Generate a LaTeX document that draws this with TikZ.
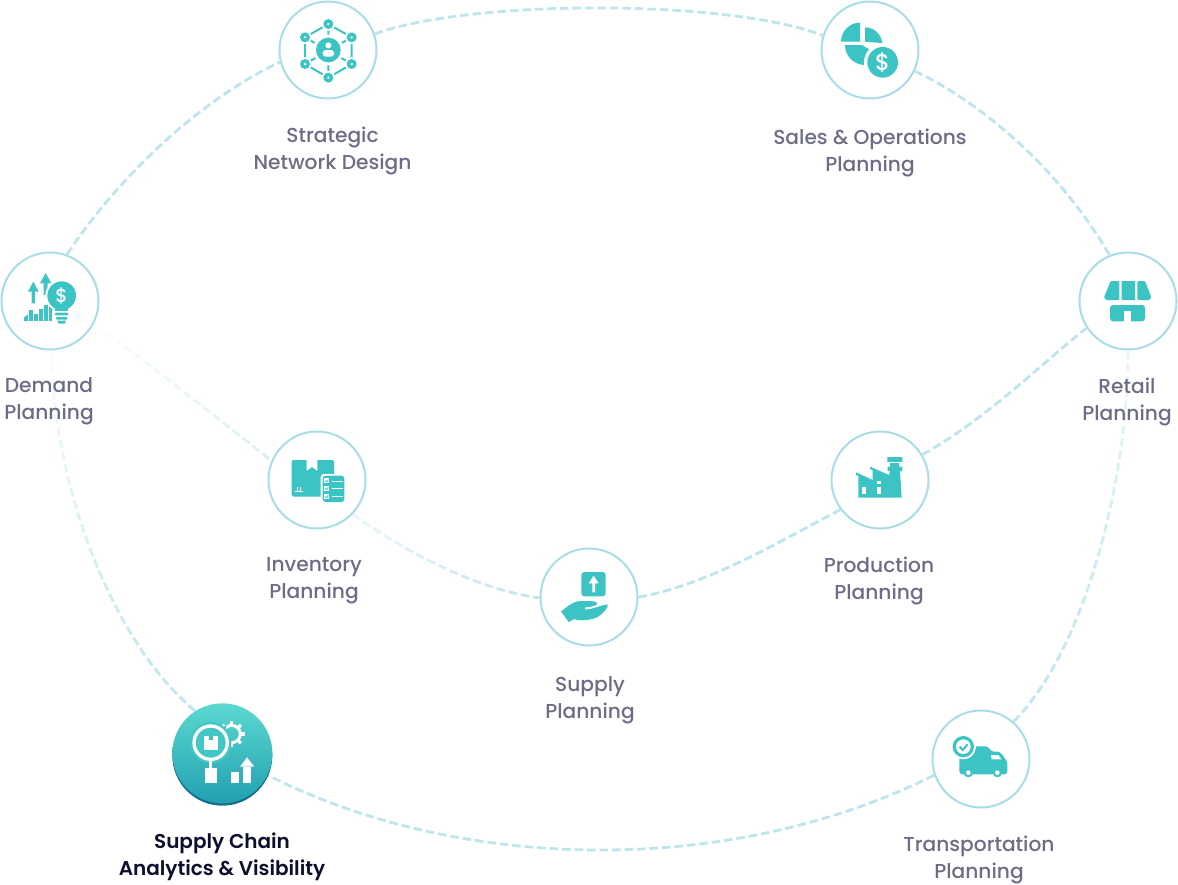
\documentclass[tikz,border=0pt]{standalone}
\usepackage{fontspec}
\usetikzlibrary{fadings}
\setmainfont{Poppins Medium}
\newfontfamily\medfont{Poppins Medium}
\newfontfamily\semifont{Poppins SemiBold}
\definecolor{ringc}{HTML}{A9DDE6}
\definecolor{linkc}{HTML}{BCE5EC}
\definecolor{iconc}{HTML}{3CC4C4}
\definecolor{labelc}{HTML}{6C6C86}
\definecolor{darkc}{HTML}{0E0F2E}
\definecolor{gradtop}{HTML}{5CD8D0}
\definecolor{gradbot}{HTML}{22A0B0}
\definecolor{rimc}{HTML}{10708A}
\tikzfading[name=fadeleft,left color=transparent!70,right color=transparent!0]
\tikzfading[name=fadeverylight,left color=transparent!95,right color=transparent!40]
\tikzfading[name=fadetop,top color=transparent!90,middle color=transparent!62,bottom color=transparent!0]
\tikzfading[name=fadetopb,top color=transparent!65,middle color=transparent!60,bottom color=transparent!0]
\tikzset{
 ringnode/.style={circle,draw=ringc,line width=2pt,fill=white,minimum size=97pt,inner sep=0pt},
 link/.style={draw=linkc,line width=2.8pt,dash pattern=on 8.5pt off 4pt},
 lab/.style={font=\fontsize{20.2}{27}\selectfont,text=labelc,align=center,inner sep=0pt},
 ic/.style={fill=iconc,draw=none},
 wh/.style={fill=white,draw=none},
 zoomed/.style={x=0.33333pt,y=-0.33333pt},
}
\begin{document}
\begin{tikzpicture}[x=1pt,y=-1pt]
\useasboundingbox (0,0) rectangle (1178,884);
% nodes
\node[ringnode] (net) at (328,50) {};
\node[ringnode] (sop) at (870,50) {};
\node[ringnode] (dem) at (50,301) {};
\node[ringnode] (ret) at (1128,301) {};
\node[ringnode] (inv) at (317,480) {};
\node[ringnode] (pro) at (880,480) {};
\node[ringnode] (sup) at (589,597) {};
\node[ringnode] (tra) at (981,759) {};
\node[circle,fill=white,minimum size=100pt,inner sep=0pt] (sca) at (222.3,753) {};
% connectors
\draw[link] (net.19) .. controls (470,-1) and (730,-1) .. (sop.163);
\draw[link] (sop.-25) .. controls (985,105) and (1060,170) .. (ret.112);
\draw[link,path fading=fadetopb] (ret.-90) .. controls (1128,480) and (1085,650) .. (tra.49);
\draw[link] (tra.199) .. controls (735,875) and (465,875) .. (sca.-26);
\draw[link,path fading=fadetop] (sca.123) .. controls (110,640) and (52,480) .. (dem.-88);
\draw[link] (dem.70) .. controls (120,175) and (200,100) .. (net.194);
\draw[link,path fading=fadeverylight] (dem.-27) .. controls (150,365) and (220,420) .. (inv.157);
\draw[link,path fading=fadeleft] (inv.-44) .. controls (410,555) and (480,590) .. (sup.181);
\draw[link] (sup.0) .. controls (710,585) and (790,535) .. (pro.217);
\draw[link] (pro.31) .. controls (985,420) and (1040,365) .. (ret.213);
% labels
\node[lab] (l1) at (332.5,150.5) {Strategic\\Network Design};
\node[lab] (l2) at (870,152.5) {Sales \& Operations\\Planning};
\node[lab] (l3) at (49,401.5) {Demand\\Planning};
\node[lab] (l4) at (1127,401.5) {Retail\\Planning};
\node[lab] (l5) at (314,580.5) {Inventory\\Planning};
\node[lab] (l6) at (879,580.5) {Production\\Planning};
\node[lab] (l7) at (590,700) {Supply\\Planning};
\node[lab] (l8) at (979,859.5) {Transportation\\Planning};
\node[lab,text=darkc,font=\fontsize{20}{27}\semifont] (l9) at (222,856.5) {Supply Chain\\Analytics \& Visibility};
% ---- network icon
\begin{scope}[shift={(260,0)},zoomed]
 \draw[iconc,line width=2pt] (205,72)--(275,112)--(275,192)--(205,233)--(135,192)--(135,112)--cycle;
 \draw[iconc,line width=2pt] (205,72)--(205,233) (135,112)--(275,192) (275,112)--(135,192);
 \foreach \p in {(205,72),(275,112),(275,192),(205,233),(135,192),(135,112)} {
  \fill[white] \p circle (20);
  \fill[iconc] \p circle (15);
  \fill[white] \p circle (4);}
 \fill[white] (205,150) circle (46);
 \fill[iconc] (205,150) circle (37);
 \fill[white] (205,136) circle (9);
 \fill[white,rounded corners=3pt] (188,170)--(188,150)--(222,150)--(222,170)--cycle;
\end{scope}
% ---- sales icon
\begin{scope}[shift={(810,0)},zoomed]
 \fill[ic] (150,125)--(93,125) arc[start angle=180,end angle=270,radius=57]--cycle;
 \fill[ic] (165,82) arc[start angle=-90,end angle=-5,radius=52]--(165,125)--cycle;
 \fill[ic] (105,135)--(155,135)--(190,155)--(165,195) arc[start angle=90,end angle=180,radius=60]--cycle;
 \fill[white] (218,187) circle (56);
 \fill[ic] (218,187) circle (46);
 \node[text=white,font=\fontsize{23}{23}\medfont,inner sep=0pt] (d1) at (218,187) {\$};
\end{scope}
% ---- demand icon
\begin{scope}[shift={(0,245)},zoomed]
 \fill[ic] (72,228)--(72,218)--(84,208)--(84,228)--cycle;
 \fill[ic] (88,228) rectangle (98,194);
 \fill[ic] (103,228) rectangle (113,206);
 \fill[ic] (118,228) rectangle (128,193);
 \fill[ic] (133,228) rectangle (143,180);
 \fill[ic] (148,228) rectangle (158,176);
 \fill[ic] (162,228) rectangle (168,200);
 \fill[ic] (100,110)--(116,140)--(105,140)--(105,175)--(95,175)--(95,140)--(84,140)--cycle;
 \fill[ic] (137,84)--(154,115)--(143,115)--(143,150)--(131,150)--(131,115)--(120,115)--cycle;
 \fill[white] (185,152) circle (49);
 \fill[white] (156,195) rectangle (214,240);
 \fill[ic] (185,152) circle (43);
 \fill[ic] (165,180) rectangle (205,197);
 \fill[ic,rounded corners=1pt] (165,203) rectangle (205,211);
 \fill[ic,rounded corners=1pt] (168,216) rectangle (202,224);
 \fill[ic] (172,227)--(198,227)--(194,236)--(176,236)--cycle;
 \node[text=white,font=\fontsize{19}{19}\medfont,inner sep=0pt] (d2) at (185,153) {\$};
\end{scope}
% ---- retail icon
\begin{scope}[shift={(1070,245)},zoomed]
 \fill[ic,rounded corners=1pt] (122,108)--(148,108)--(148,165)--(108,165)--(102,157)--cycle;
 \fill[ic,rounded corners=.5pt] (155,108)--(195,108)--(195,165)--(155,165)--cycle;
 \fill[ic,rounded corners=1pt] (202,108)--(225,108)--(244,157)--(238,165)--(202,165)--cycle;
 \fill[ic,rounded corners=3pt] (120,180)--(225,180)--(225,229)--(120,229)--cycle;
 \fill[white] (163,198) rectangle (182,232);
\end{scope}
% ---- inventory icon
\begin{scope}[shift={(260,425)},zoomed]
 \fill[ic,rounded corners=2pt] (95,105) rectangle (222,215);
 \fill[white] (140,103)--(140,137)--(156,126)--(172,137)--(172,103)--cycle;
 \draw[white,line width=1pt] (111,200)--(111,186) (122,200)--(122,186);
 \draw[white,line width=1pt] (105,198)--(128,198);
 \fill[white,rounded corners=3pt] (182,147) rectangle (258,236);
 \fill[ic,rounded corners=3pt] (188,152) rectangle (253,231);
 \foreach \y in {160,183,207} {
  \fill[white] (192,\y) rectangle ++(15,15);
  \draw[iconc,line width=0.8pt] (195,\y+7)--(199,\y+11)--(205,\y+4);
  \draw[white,line width=1pt] (215,\y+8)--(248,\y+8);}
\end{scope}
% ---- production icon
\begin{scope}[shift={(825,425)},zoomed]
 \fill[ic] (100,218)--(100,153)--(93,150)--(93,142)--(143,165)--(143,135)--(135,132)--(135,125)--(192,150)--(195,138)--(188,138)--(188,125)--(195,125)--(195,112)--(187,112)--(187,96)--(232,96)--(232,112)--(222,112)--(222,125)--(232,125)--(232,138)--(225,138)--(230,218)--cycle;
 \fill[white] (187,111) rectangle (232,114);
 \fill[white] (112,185) rectangle (123,207);
 \fill[white] (157,185) rectangle (168,207);
 \fill[white] (157,167) rectangle (168,178);
\end{scope}
% ---- supply icon
\begin{scope}[shift={(535,543)},zoomed]
 \fill[ic,rounded corners=3pt] (139,87) rectangle (212,160);
 \fill[white] (176,98)--(191,121)--(180,121)--(180,148)--(172,148)--(172,121)--(161,121)--cycle;
 \fill[ic] (78,205) .. controls (100,190) and (115,172) .. (145,174)
   .. controls (160,175) and (180,172) .. (187,180)
   .. controls (188,188) and (170,192) .. (150,193)
   -- (150,199) .. controls (175,200) and (195,186) .. (218,184)
   .. controls (222,190) and (205,212) .. (188,222)
   .. controls (170,232) and (130,235) .. (118,228)
   -- (101,237) -- cycle;
\end{scope}
% ---- truck icon
\begin{scope}[shift={(925,705)},zoomed]
 \fill[ic,rounded corners=3pt] (103,124)--(190,124)--(198,140)--(225,140)--(247,170)--(247,208)--(103,208)--cycle;
 \fill[white] (198,150)--(221,150)--(229,163)--(200,163)--cycle;
 \fill[ic] (130,203) circle (14);
 \fill[ic] (217,203) circle (14);
 \fill[white] (130,203) circle (7);
 \fill[white] (217,203) circle (7);
 \fill[white] (115,125) circle (38);
 \fill[ic] (115,125) circle (32);
 \fill[white] (115,125) circle (22);
 \draw[iconc,line width=2pt] (104,125)--(113,135)--(128,118);
\end{scope}
% ---- analytics icon
\begin{scope}[shift={(160,695)},zoomed]
 \fill[rimc] (187,182) circle (150);
 \shade[top color=gradtop,bottom color=gradbot] (187,175) circle (150);
 \draw[white,line width=3pt] (215,117) circle (26);
 \foreach \a in {-135,-90,-45,0,45,90,135} {
  \draw[white,line width=3.3pt] ({215+26*cos(\a)},{117+26*sin(\a)})--({215+39*cos(\a)},{117+39*sin(\a)});}
 \fill[iconc!85!gradtop] (152,143) circle (62);
 \fill[iconc!85!gradtop] (190,122) -- (178,100) -- (200,90) -- cycle;
 \draw[white,line width=3.3pt] (152,143) circle (50);
 \fill[white] (147,190) rectangle (157,218);
 \fill[white] (135,218) rectangle (170,263);
 \fill[white] (132,122) rectangle (175,165);
 \fill[iconc] (147,122) rectangle (160,136);
 \fill[white] (213,230) rectangle (238,263);
 \fill[white] (249,215) rectangle (273,263);
 \fill[white] (240,215)--(261,187)--(283,215)--cycle;
\end{scope}
\end{tikzpicture}
\end{document}
